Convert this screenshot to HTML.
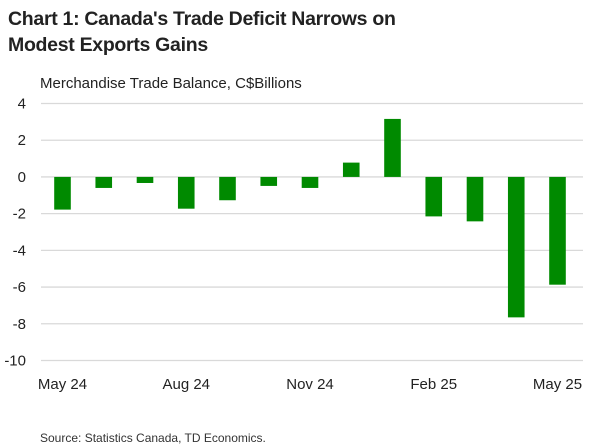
<!DOCTYPE html>
<html><head><meta charset="utf-8"><style>
body{margin:0;background:#fff;font-family:"Liberation Sans",sans-serif;}
#wrap{position:relative;width:600px;height:448px;overflow:hidden;}
.t{position:absolute;white-space:nowrap;color:#222;}
</style></head><body>
<div id="wrap">
<div class="t" style="left:8px;top:6px;font-size:19.5px;font-weight:bold;line-height:26px;letter-spacing:-0.3px;">Chart 1: Canada's Trade Deficit Narrows on<br>Modest Exports Gains</div>
<div class="t" style="left:40px;top:75px;font-size:15px;">Merchandise Trade Balance, C$Billions</div>
<svg id="svg" width="600" height="448" style="position:absolute;left:0;top:0;"></svg>
<div class="t" style="left:40px;top:431px;font-size:12px;color:#333;">Source: Statistics Canada, TD Economics.</div>
</div>
<script>
const categories=["May 24","Jun 24","Jul 24","Aug 24","Sep 24","Oct 24","Nov 24","Dec 24","Jan 25","Feb 25","Mar 25","Apr 25","May 25"];
const values=[-1.78,-0.6,-0.33,-1.73,-1.27,-0.49,-0.6,0.78,3.16,-2.15,-2.42,-7.65,-5.87];
const yTicks=[4,2,0,-2,-4,-6,-8,-10];
const xLabelIdx=[0,3,6,9,12];
const ns="http://www.w3.org/2000/svg";
const svg=document.getElementById('svg');
const yMax=4,yMin=-10,plotTop=103.5,plotBot=360.5,left=41,right=583;
const y=v=>plotTop+(yMax-v)/(yMax-yMin)*(plotBot-plotTop);
const step=41.25,x0=62.5;
const x=i=>x0+i*step;
function mk(t,a){const e=document.createElementNS(ns,t);for(const k in a)e.setAttribute(k,a[k]);svg.appendChild(e);return e;}
yTicks.forEach(v=>{
 const g=mk('line',{x1:left,x2:right,y1:y(v),y2:y(v),stroke:'#d9d9d9','stroke-width':1.3});
 
 
 const t=mk('text',{x:26,y:y(v)+5,'text-anchor':'end','font-size':15,fill:'#222','font-family':'Liberation Sans'});
 t.textContent=v;
 
 
});
values.forEach((v,i)=>{
 const y1=Math.min(y(v),y(0)),h=Math.abs(y(v)-y(0));
 const r=mk('rect',{x:x(i)-8.3,y:y1,width:16.6,height:h,fill:'#008a00'});
 
 
});
xLabelIdx.forEach(i=>{
 const t=mk('text',{x:x(i),y:389,'text-anchor':'middle','font-size':15,fill:'#222','font-family':'Liberation Sans'});
 t.textContent=categories[i];
 
 
});
</script>
</body></html>
